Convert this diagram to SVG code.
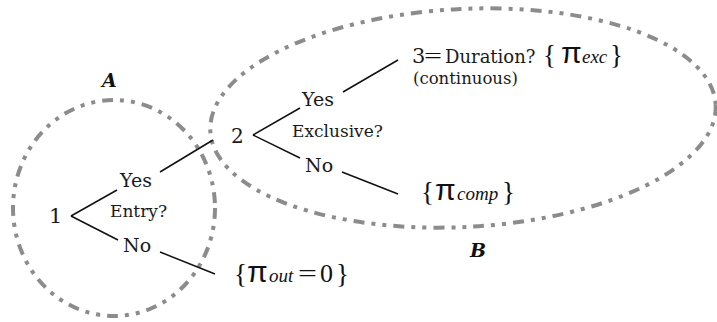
<svg xmlns="http://www.w3.org/2000/svg" width="717" height="322" viewBox="0 0 717 322">
<style>
.region{fill:none;stroke:#8c8c8c;stroke-width:4;stroke-dasharray:11 7 4 7 4 7;}
.edge{stroke:#111;stroke-width:1.5;fill:none;}
.t{font-family:"DejaVu Serif","Liberation Serif",serif;fill:#1a1a1a;}
.lab{font-family:"DejaVu Serif","Liberation Serif",serif;font-weight:bold;font-style:italic;font-size:19px;fill:#111;}
.pi{font-family:"Liberation Sans","DejaVu Sans",sans-serif;font-size:30px;fill:#111;}
.sub{font-family:"Liberation Serif",serif;font-style:italic;font-size:19px;fill:#111;}
.br{font-family:"Liberation Serif",serif;font-size:27px;fill:#111;}
.eq{font-family:"Liberation Serif",serif;fill:#111;}
</style>
<rect width="717" height="322" fill="#fff"/>
<g id="region-A">
<ellipse class="region" cx="114" cy="208" rx="101" ry="108"/>
<text class="lab" x="102" y="87">A</text>
</g>
<g id="region-B">
<ellipse class="region" cx="463" cy="118" rx="253" ry="109" transform="rotate(-3 463 118)"/>
<text class="lab" x="470" y="257">B</text>
</g>
<g id="connectors">
<line class="edge" x1="71" y1="216" x2="117" y2="190"/>
<line class="edge" x1="71" y1="216" x2="118" y2="240"/>
<line class="edge" x1="160" y1="172" x2="213" y2="140"/>
<line class="edge" x1="160" y1="252" x2="215" y2="274"/>
<line class="edge" x1="253" y1="135" x2="300" y2="108"/>
<line class="edge" x1="253" y1="135" x2="300" y2="158"/>
<line class="edge" x1="343" y1="92" x2="398" y2="60"/>
<line class="edge" x1="342" y1="172" x2="398" y2="194"/>
<text class="t" x="120" y="187" font-size="19">Yes</text>
<text class="t" x="110" y="217" font-size="17">Entry?</text>
<text class="t" x="123" y="252" font-size="19">No</text>
<text class="t" x="302" y="106" font-size="19">Yes</text>
<text class="t" x="292" y="137" font-size="17">Exclusive?</text>
<text class="t" x="305" y="172" font-size="19">No</text>
</g>
<g id="node-1">
<text class="t" x="49" y="223" font-size="21">1</text>
</g>
<g id="node-2">
<text class="t" x="231" y="143" font-size="20">2</text>
</g>
<g id="node-3">
<text class="t" x="412" y="63" font-size="21">3</text>
<text class="eq" x="424" y="63" font-size="20" textLength="18" lengthAdjust="spacingAndGlyphs">=</text>
<text class="t" x="445" y="63" font-size="18">Duration?</text>
<text class="br" x="543" y="64">{</text>
<text class="pi" x="561" y="63">π</text>
<text class="sub" x="582" y="63">exc</text>
<text class="br" x="610" y="64">}</text>
<text class="t" x="413" y="84" font-size="16.5">(continuous)</text>
</g>
<g id="leaf-comp">
<text class="br" x="421" y="201">{</text>
<text class="pi" x="435" y="200">π</text>
<text class="sub" x="457" y="200">comp</text>
<text class="br" x="502" y="201">}</text>
</g>
<g id="leaf-out">
<text class="br" x="234" y="283">{</text>
<text class="pi" x="247" y="282">π</text>
<text class="sub" x="269" y="282">out</text>
<text class="eq" x="298" y="282" font-size="26" textLength="19" lengthAdjust="spacingAndGlyphs">=</text>
<text class="eq" x="320" y="282" font-size="26">0</text>
<text class="br" x="336" y="283">}</text>
</g>
</svg>
